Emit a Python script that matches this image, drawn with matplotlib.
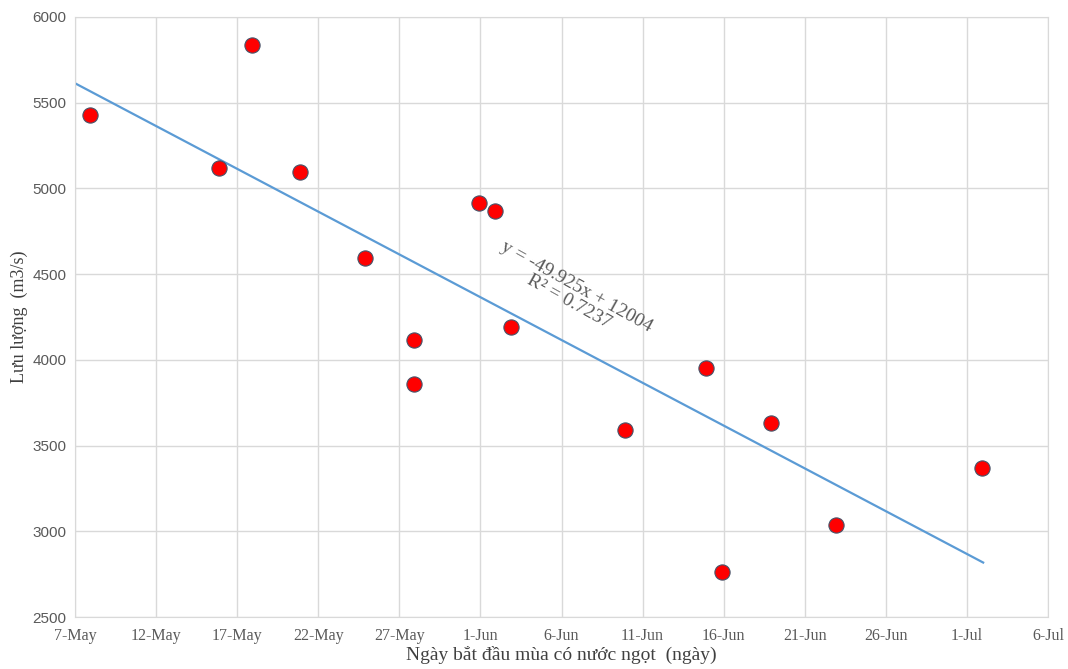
import pandas as pd
import matplotlib.pyplot as plt

# Ngày bắt đầu mùa có nước ngọt và lưu lượng tương ứng
ngay = ['2020-05-08', '2020-05-16', '2020-05-18', '2020-05-21', '2020-05-25',
        '2020-05-28', '2020-05-28', '2020-06-01', '2020-06-02', '2020-06-03',
        '2020-06-10', '2020-06-15', '2020-06-16', '2020-06-19', '2020-06-23',
        '2020-07-02']
luu_luong = [5430, 5120, 5835, 5095, 4595, 4115, 3860, 4915, 4870, 4190,
             3590, 3950, 2760, 3630, 3035, 3370]

# Đường xu hướng tuyến tính (x = thứ tự ngày trong năm)
he_so_a = -49.925
he_so_b = 12004
r2 = 0.7237
trend_dates = ['2020-05-07', '2020-07-02']

tick_dates = ['2020-05-07', '2020-05-12', '2020-05-17', '2020-05-22', '2020-05-27',
              '2020-06-01', '2020-06-06', '2020-06-11', '2020-06-16', '2020-06-21',
              '2020-06-26', '2020-07-01', '2020-07-06']
tick_labels = ['7-May', '12-May', '17-May', '22-May', '27-May', '1-Jun', '6-Jun',
               '11-Jun', '16-Jun', '21-Jun', '26-Jun', '1-Jul', '6-Jul']

x = pd.to_datetime(ngay).dayofyear
x_trend = pd.to_datetime(trend_dates).dayofyear
y_trend = he_so_a * x_trend + he_so_b
x_ticks = pd.to_datetime(tick_dates).dayofyear

fig = plt.figure(figsize=(10.68, 6.69), dpi=100)
ax = fig.add_axes([0.0702, 0.0777, 0.9111, 0.8969])

ax.plot(x_trend, y_trend, color='#5b9bd5', linewidth=1.6, zorder=2)
ax.scatter(x - 0.1, luu_luong, s=120, color='#ff0000', edgecolors='#44546a',
           linewidths=0.8, zorder=3)

ax.set_xlim(x_ticks[0], x_ticks[-1])
ax.set_ylim(2500, 6000)
ax.set_xticks(x_ticks)
ax.set_xticklabels(tick_labels, family='Liberation Serif', fontsize=11.5, color='#595959')
ax.set_yticks(range(2500, 6001, 500))
ax.tick_params(axis='y', labelsize=11, labelcolor='#595959', length=0, pad=6)
ax.tick_params(axis='x', length=0, pad=8)
for lbl in ax.get_yticklabels():
    lbl.set_family('Liberation Sans')

ax.grid(True, color='#d9d9d9', linewidth=1)
ax.set_axisbelow(True)
for sp in ax.spines.values():
    sp.set_color('#d9d9d9')

ax.set_xlabel('Ngày bắt đầu mùa có nước ngọt  (ngày)', family='Liberation Serif',
              fontsize=14, color='#404040', labelpad=1)
ax.set_ylabel('Lưu lượng  (m3/s)', family='Liberation Serif', fontsize=13,
              color='#404040', labelpad=3)

ax.text(158.7, 4385, 'y = %.3fx + %d\nR² = %.4f' % (he_so_a, he_so_b, r2),
        rotation=-29, rotation_mode='anchor', ha='center', va='center',
        family='Liberation Serif', fontsize=14, color='#595959',
        linespacing=1.0, multialignment='center')

plt.savefig('out.png', dpi=100)
